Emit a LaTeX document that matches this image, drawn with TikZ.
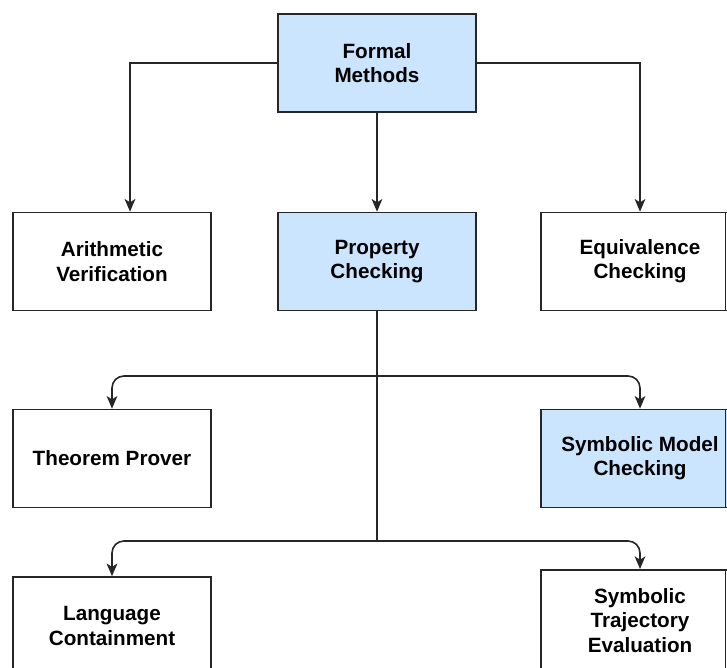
\documentclass[tikz,border=0pt]{standalone}
\usepackage{fontspec}
\setmainfont{Liberation Sans}
\usetikzlibrary{arrows.meta}
\definecolor{nodeblue}{HTML}{CCE5FF}
\begin{document}
\begin{tikzpicture}[x=0.75pt,y=-0.75pt,
  every node/.style={font=\fontsize{15.5pt}{18.2pt}\selectfont\bfseries},
  box/.style={draw=black!85, line width=1.2pt, rectangle, align=center,
    minimum width=148.5pt, minimum height=73.5pt, inner sep=0pt, fill=white},
  hl/.style={box, fill=nodeblue},
  link/.style={draw=black!85, line width=1.2pt},
  arr/.style={link, -{Stealth[length=9.5pt,width=8pt,inset=2.5pt]}},
  roundarr/.style={arr, rounded corners=9pt}]
\useasboundingbox (0,0) rectangle (727,667);
\clip (0,0) rectangle (727,667);

% boxes
\node[hl]  (fm)  at (377,63)    {Formal\\Methods};
\node[box] (av)  at (112,261.5) {Arithmetic\\Verification};
\node[hl]  (pc)  at (377,261.5) {Property\\Checking};
\node[box] (eq)  at (640,261.5) {Equivalence\\Checking};
\node[box] (tp)  at (112,458.5) {Theorem Prover};
\node[hl]  (smc) at (640,458.5) {Symbolic Model\\Checking};
\node[box] (lc)  at (112,626)   {Language\\Containment};
\node[box, minimum height=76pt] (ste) at (640,620.5) {Symbolic\\Trajectory\\Evaluation};

% right border of the boxes cut by the page edge
\coordinate (edge) at (725.6,0);
\foreach \n in {eq,smc,ste}
  \draw[link] (\n.north east -| edge) -- (\n.south east -| edge);

% junctions on the trunk below Property Checking
\coordinate (j1) at (377,376);
\coordinate (j2) at (377,541);

% top level
\draw[arr] (fm.west) -| ([xshift=13.5pt]av.north);
\draw[arr] (fm.south) -- (pc.north);
\draw[arr] (fm.east) -| (eq.north);

% property checking branches
\draw[link] (pc.south) -- (j2);
\draw[roundarr] (j1) -| (tp.north);
\draw[roundarr] (j1) -| (smc.north);
\draw[roundarr] (j2) -| (lc.north);
\draw[roundarr] (j2) -| (ste.north);
\end{tikzpicture}
\end{document}
